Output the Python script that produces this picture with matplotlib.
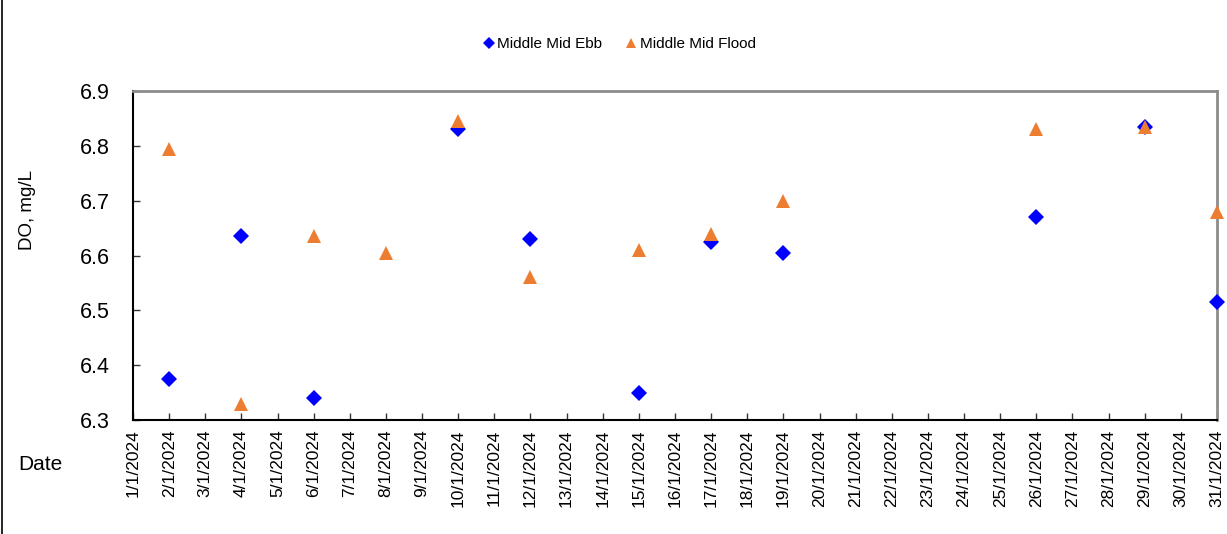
import matplotlib
matplotlib.use("Agg")
import matplotlib.pyplot as plt
from matplotlib.lines import Line2D

plt.rcParams['font.family'] = ['Liberation Sans', 'DejaVu Sans']

days = list(range(1, 32))
tick_labels = [f"{d}/1/2024" for d in days]

ebb_days = [2, 4, 6, 10, 12, 15, 17, 19, 26, 29, 31]
ebb_vals = [6.375, 6.635, 6.34, 6.83, 6.63, 6.35, 6.625, 6.605, 6.67, 6.835, 6.515]

flood_days = [2, 4, 6, 8, 10, 12, 15, 17, 19, 26, 29, 31]
flood_vals = [6.795, 6.33, 6.635, 6.605, 6.845, 6.56, 6.61, 6.64, 6.70, 6.83, 6.835, 6.68]

fig = plt.figure(figsize=(12.27, 5.34), dpi=100)
ax = fig.add_axes([133/1227, 1-420/534, (1217-133)/1227, (420-91)/534])

ax.plot(ebb_days, ebb_vals, linestyle='none', marker='D', ms=8.5, color='#0000FF',
        markeredgewidth=0, label='Middle Mid Ebb', clip_on=False, zorder=3)
ax.plot(flood_days, flood_vals, linestyle='none', marker='^', ms=10, color='#ED7D31',
        markeredgewidth=0, label='Middle Mid Flood', clip_on=False, zorder=4)

ax.set_xlim(1, 31)
ax.set_ylim(6.3, 6.9)
ax.set_xticks(days)
ax.set_xticklabels(tick_labels, rotation=90, fontsize=12.5)
ax.set_yticks([6.3, 6.4, 6.5, 6.6, 6.7, 6.8, 6.9])
ax.set_yticklabels(['6.3', '6.4', '6.5', '6.6', '6.7', '6.8', '6.9'], fontsize=15.5)
ax.tick_params(axis='both', direction='in', length=5, width=1, color='#333333')
ax.tick_params(axis='x', pad=7)
ax.tick_params(axis='y', pad=17)

for s in ['left', 'bottom']:
    ax.spines[s].set_color('#000000')
    ax.spines[s].set_linewidth(1.5)
for s in ['top', 'right']:
    ax.spines[s].set_color('#8C8C8C')
    ax.spines[s].set_linewidth(2)

fig.text(28/1227, 1-210/534, 'DO, mg/L', fontsize=13.5, rotation=90, va='center', ha='center')
fig.text(18/1227, 1-464/534, 'Date', fontsize=15, va='center', ha='left')

handles = [
    Line2D([], [], linestyle='none', marker='D', ms=6, color='#0000FF', markeredgewidth=0),
    Line2D([], [], linestyle='none', marker='^', ms=7, color='#ED7D31', markeredgewidth=0),
]
fig.legend(handles, ['Middle Mid Ebb', 'Middle Mid Flood'], loc='center',
           bbox_to_anchor=(620/1227, 1-44/534), ncol=2, frameon=False, fontsize=11,
           handlelength=0.6, handletextpad=0.25, columnspacing=1.6)

fig.add_artist(Line2D([1.5/1227, 1.5/1227], [0, 1], color='#000000', linewidth=1.2,
                      transform=fig.transFigure))

fig.savefig('out.png', dpi=100)
